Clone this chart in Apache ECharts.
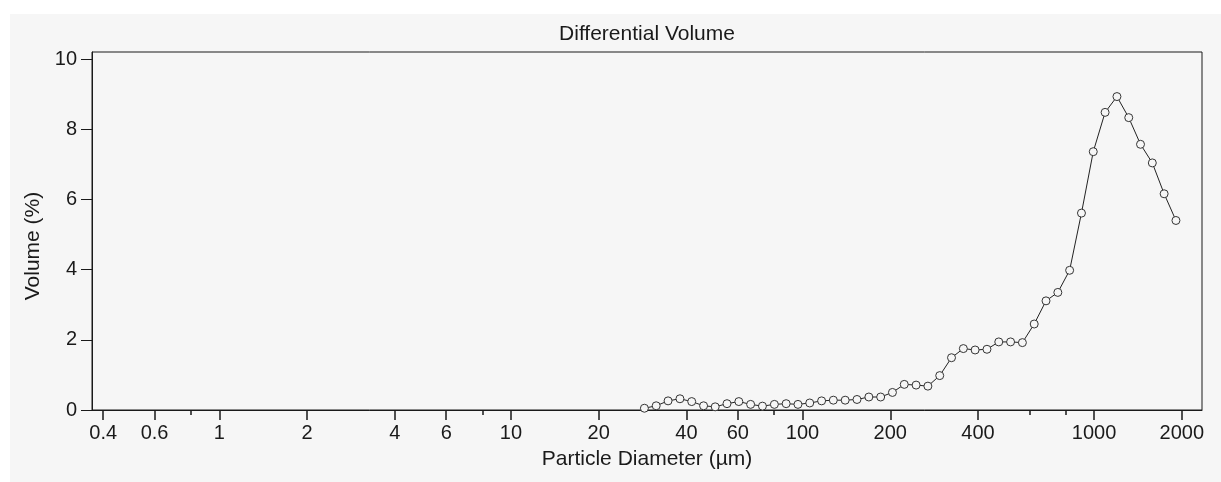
<!DOCTYPE html>
<html>
<head>
<meta charset="utf-8">
<script src="https://cdn.jsdelivr.net/npm/echarts@6/dist/echarts.min.js"></script>
<style>
  html, body { margin: 0; padding: 0; background: #ffffff; }
  #panel { position: absolute; left: 10px; top: 14px; width: 1211px; height: 468px; background: #f6f6f6; }
  #main { position: absolute; left: 0; top: 0; width: 1221px; height: 482px; }
</style>
</head>
<body>
<div id="panel"></div>
<div id="main"></div>
<script>
// particle diameter (µm), channel centres
var diameters = [28.7, 31.5, 34.6, 38.0, 41.7, 45.8, 50.2, 55.1, 60.5, 66.4,
  72.9, 80.1, 87.9, 96.5, 105.9, 116.3, 127.6, 140.1, 153.8, 168.9,
  185.4, 203.5, 223.4, 245.3, 269.2, 295.6, 324.4, 356.2, 390.9, 429.2,
  471.2, 517.2, 567.8, 623.3, 684.2, 751.2, 824.5, 905.2, 993.6, 1091,
  1198, 1315, 1443, 1584, 1739, 1909];
// differential volume (%)
var volumes = [0.05, 0.12, 0.26, 0.32, 0.24, 0.12, 0.09, 0.18, 0.24, 0.16,
  0.11, 0.16, 0.18, 0.16, 0.20, 0.26, 0.28, 0.28, 0.30, 0.37,
  0.37, 0.50, 0.73, 0.71, 0.68, 0.98, 1.49, 1.75, 1.71, 1.73,
  1.94, 1.94, 1.92, 2.45, 3.11, 3.35, 3.98, 5.61, 7.36, 8.48,
  8.93, 8.33, 7.57, 7.04, 6.16, 5.40];
// x axis ticks
var majorTicks = [0.4, 0.6, 1, 2, 4, 6, 10, 20, 40, 60, 100, 200, 400, 1000, 2000];
var minorTicks = [0.8, 8, 80, 600, 800];
var yTicks = [0, 2, 4, 6, 8, 10];

var font = 'Liberation Sans, Arial, sans-serif';
var ink = '#1a1a1a';

var chart = echarts.init(document.getElementById('main'), null, { renderer: 'canvas' });

var option = {
  animation: false,
  title: {
    text: 'Differential Volume',
    left: 647,
    textAlign: 'center',
    top: 24,
    padding: 0,
    textStyle: { color: ink, fontFamily: font, fontSize: 21, fontWeight: 'normal' }
  },
  grid: {
    left: 92, right: 19, top: 52, bottom: 72,
    show: true,
    borderColor: ink,
    borderWidth: 1,
    backgroundColor: 'transparent'
  },
  xAxis: [{
    type: 'log',
    logBase: 10,
    min: 0.366,
    max: 2345,
    position: 'bottom',
    name: 'Particle Diameter (µm)',
    nameLocation: 'middle',
    nameGap: 39,
    nameTextStyle: { color: ink, fontFamily: font, fontSize: 21 },
    axisLine: { show: true, lineStyle: { color: ink, width: 1 } },
    axisTick: { show: true, length: 10, customValues: majorTicks, lineStyle: { color: ink, width: 1.5 } },
    axisLabel: {
      show: true,
      customValues: majorTicks,
      margin: 13,
      color: ink,
      fontFamily: font,
      fontSize: 20,
      formatter: function (v) { return String(v); }
    },
    splitLine: { show: false },
    minorTick: { show: false }
  }, {
    type: 'log',
    logBase: 10,
    min: 0.366,
    max: 2345,
    position: 'bottom',
    axisLine: { show: false },
    axisTick: { show: true, length: 5, customValues: minorTicks, lineStyle: { color: ink, width: 1.5 } },
    axisLabel: { show: false },
    splitLine: { show: false }
  }],
  yAxis: {
    type: 'value',
    min: 0,
    max: 10.2,
    interval: 2,
    name: 'Volume (%)',
    nameLocation: 'middle',
    nameGap: 47,
    nameTextStyle: { color: ink, fontFamily: font, fontSize: 21, padding: [0, 30, 0, 0] },
    axisLine: { show: true, lineStyle: { color: ink, width: 1 } },
    axisTick: { show: true, length: 11, customValues: yTicks, lineStyle: { color: ink, width: 1 } },
    axisLabel: {
      customValues: yTicks,
      margin: 15,
      color: ink,
      fontFamily: font,
      fontSize: 20
    },
    splitLine: { show: false }
  },
  series: [{
    type: 'line',
    xAxisIndex: 0,
    data: diameters.map(function (d, i) { return [d, volumes[i]]; }),
    symbol: 'circle',
    symbolSize: 8,
    showSymbol: true,
    lineStyle: { color: '#222', width: 1 },
    itemStyle: { color: '#f6f6f6', borderColor: '#333', borderWidth: 1 }
  }]
};

chart.setOption(option);
</script>
</body>
</html>
